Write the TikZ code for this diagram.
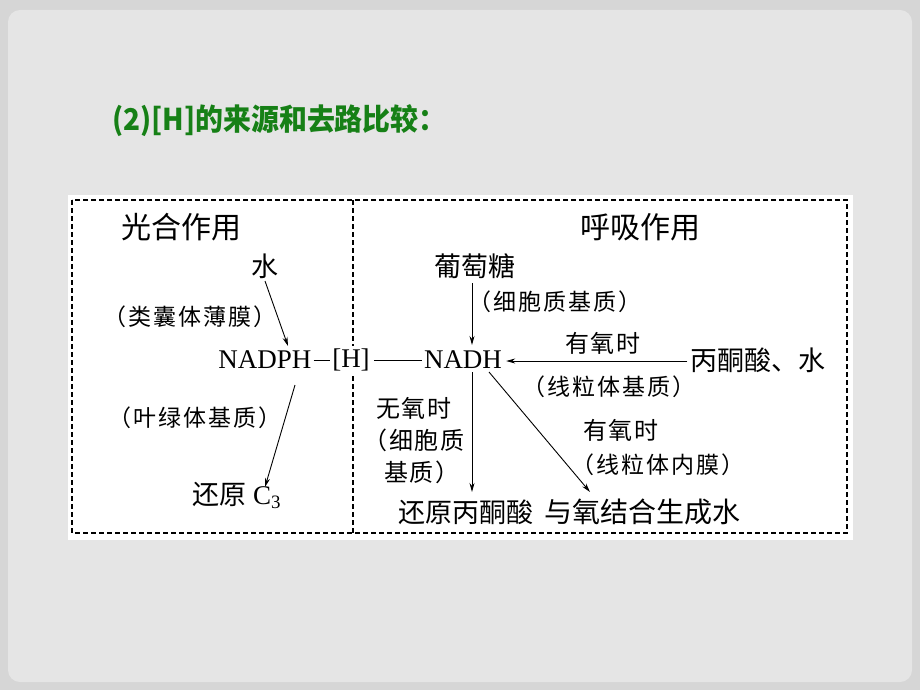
\documentclass[tikz,border=0pt]{standalone}
\usepackage{fontspec}
\setmainfont{Liberation Serif}
\newfontfamily\cjk{Noto Sans CJK SC}
\newfontfamily\cjknote{Noto Sans CJK SC}[LetterSpace=8]
\usetikzlibrary{arrows.meta,calc}
\definecolor{titlegreen}{RGB}{22,128,22}
\definecolor{bgout}{RGB}{214,214,214}
\definecolor{bgin}{RGB}{229,229,229}
\tikzset{
  big/.style={inner sep=0pt, font=\cjk\fontsize{27}{30}\selectfont},
  head/.style={inner sep=0pt, font=\cjk\fontsize{30}{33}\selectfont},
  note/.style={inner sep=0pt, font=\cjknote\fontsize{23}{26}\selectfont},
  cond/.style={inner sep=0pt, font=\cjknote\fontsize{24}{32}\selectfont, align=center},
  latin/.style={inner sep=0pt, font=\fontsize{27}{30}\selectfont},
  arr/.style={-{Stealth[length=9pt,width=5pt]}, line width=0.9pt, black},
  link/.style={line width=0.9pt, black},
  frame/.style={dash pattern=on 5pt off 3pt, line width=1.1pt, black}
}
\begin{document}
\begin{tikzpicture}[x=1pt,y=-1pt]
  \useasboundingbox (0,0) rectangle (920,690);
  % background
  \fill[bgout] (0,0) rectangle (920,690);
  \fill[bgin, rounded corners=12pt] (8,10) rectangle (912,682);
  % title
  \node[anchor=west, inner sep=0pt, text=titlegreen, font=\cjk\bfseries\fontsize{30}{33}\selectfont] (title) at (112,121) {\scalebox{0.93}[1]{(2)[H]的来源和去路比较：}};
  % box
  \fill[white] (68,195) rectangle (853,540);
  \draw[frame] (72,200) rectangle (847,533);
  \draw[frame] (353,200) -- (353,533);
  % left part
  \node[head] (gh) at (181,227) {光合作用};
  \node[big] (shui) at (265,266) {水};
  \node[note] (lnt) at (190,317) {（类囊体薄膜）};
  \node[latin] (nadph) at (265,360) {NADPH};
  \node[latin, fill=white, inner sep=3pt] (hh) at (351,360) {[H]};
  \node[note] (ylt) at (195,418) {（叶绿体基质）};
  \node[big] (c3) at (237,495) {还原 {\rmfamily C\textsubscript{3}}};
  % right part
  \node[head] (hx) at (640,227) {呼吸作用};
  \node[big] (ptt) at (475,266) {葡萄糖};
  \node[note] (xbz) at (555,302) {（细胞质基质）};
  \node[latin] (nadh) at (463,360) {NADH};
  \node[cond] (byo1) at (603,343) {有氧时};
  \node[big] (bts) at (758,360) {丙酮酸、水};
  \node[note] (xlj) at (609,387) {（线粒体基质）};
  \node[cond] (wy) at (414,441) {无氧时\\（细胞质\\\hspace*{16pt}基质）};
  \node[cond] (byo2) at (621,430) {有氧时};
  \node[note] (xln) at (658,465) {（线粒体内膜）};
  \node[big] (hy) at (466,512) {还原丙酮酸};
  \node[big, font=\cjk\fontsize{28}{30}\selectfont] (yy) at (642,512) {与氧结合生成水};
  % connectors
  \draw[link] (nadph.east) ++(2,0) -- ($(hh.west)+(1,0)$);
  \draw[link] (hh.east) ++(1,0) -- ($(nadh.west)+(-2,0)$);
  \draw[arr] ($(shui)+(0,15)$) -- ($(nadph)+(23,-14)$);
  \draw[arr] ($(nadph)+(30,25)$) -- ($(c3)+(28,-8)$);
  \draw[arr] ($(ptt)+(-3,17)$) -- ($(nadh)+(9,-15)$);
  \draw[arr] ($(bts.west)+(-3,1)$) -- ($(nadh.east)+(4,1)$);
  \draw[arr] ($(nadh)+(9,12)$) -- ($(hy)+(6,-20)$);
  \draw[arr] ($(nadh)+(26,12)$) -- ($(yy)+(-52,-20)$);
\end{tikzpicture}
\end{document}
